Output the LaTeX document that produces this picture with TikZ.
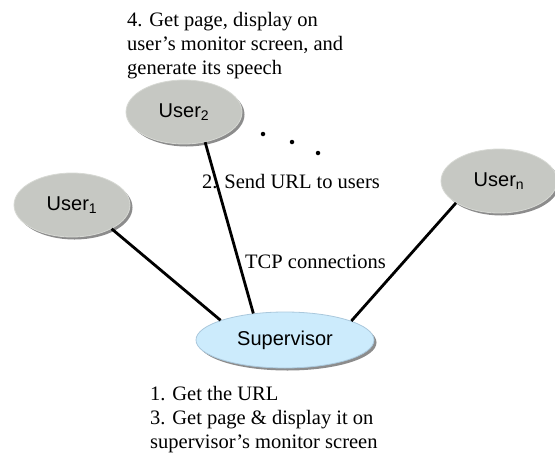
\documentclass[tikz,border=0pt]{standalone}
\usepackage{fontspec}
\setmainfont{Liberation Serif}
\setsansfont{Liberation Sans}
\usetikzlibrary{shapes.geometric,shadows}
\definecolor{userfill}{RGB}{198,200,195}
\definecolor{userdraw}{RGB}{215,217,212}
\definecolor{supfill}{RGB}{204,235,252}
\definecolor{supdraw}{RGB}{170,200,220}
\definecolor{shadowgray}{RGB}{140,140,140}
\tikzset{
  usernode/.style={ellipse, fill=userfill, draw=userdraw, line width=0.8pt,
    minimum width=116pt, minimum height=64pt, inner sep=0pt,
    font=\sffamily\fontsize{20}{24}\selectfont,
    drop shadow={shadow xshift=2.5pt, shadow yshift=-2.5pt, fill=shadowgray, opacity=1}},
  supnode/.style={usernode, fill=supfill, draw=supdraw,
    minimum width=178pt, minimum height=56pt},
  conn/.style={line width=2.8pt, black},
  note/.style={font=\fontsize{20.5}{24}\selectfont, align=left, inner sep=0pt},
  dotmark/.style={circle, fill=black, inner sep=0pt, minimum size=4.5pt}
}
\begin{document}
\begin{tikzpicture}[x=1pt,y=-1pt]
\useasboundingbox (0,0) rectangle (555,453);
% texts
\node[note, anchor=north west] (t4) at (127,12.5) {4. Get page, display on\\user’s monitor screen, and\\generate its speech};
\node[note, anchor=base west] (t2) at (202,188) {2. Send URL to users};
\node[note, anchor=base west] (tcp) at (245,268) {TCP connections};
\node[note, anchor=north west] (t13) at (150,386) {1. Get the URL\\3. Get page \& display it on\\supervisor’s monitor screen};
% nodes
\node[usernode] (user2) at (184,112) {User\textsubscript{2}};
\node[usernode] (user1) at (72,205) {User\textsubscript{1}};
\node[usernode] (usern) at (499,181) {User\textsubscript{n}};
\node[supnode] (sup) at (285,340) {Supervisor};
% dots
\node[dotmark] (d1) at (263,134) {};
\node[dotmark] (d2) at (292,142) {};
\node[dotmark] (d3) at (318,153) {};
% connectors
\draw[conn] (user1.-31) -- (sup.163);
\draw[conn] (user2.-55.5) -- (sup.140);
\draw[conn] (usern.207) -- (sup.16);
\end{tikzpicture}
\end{document}
